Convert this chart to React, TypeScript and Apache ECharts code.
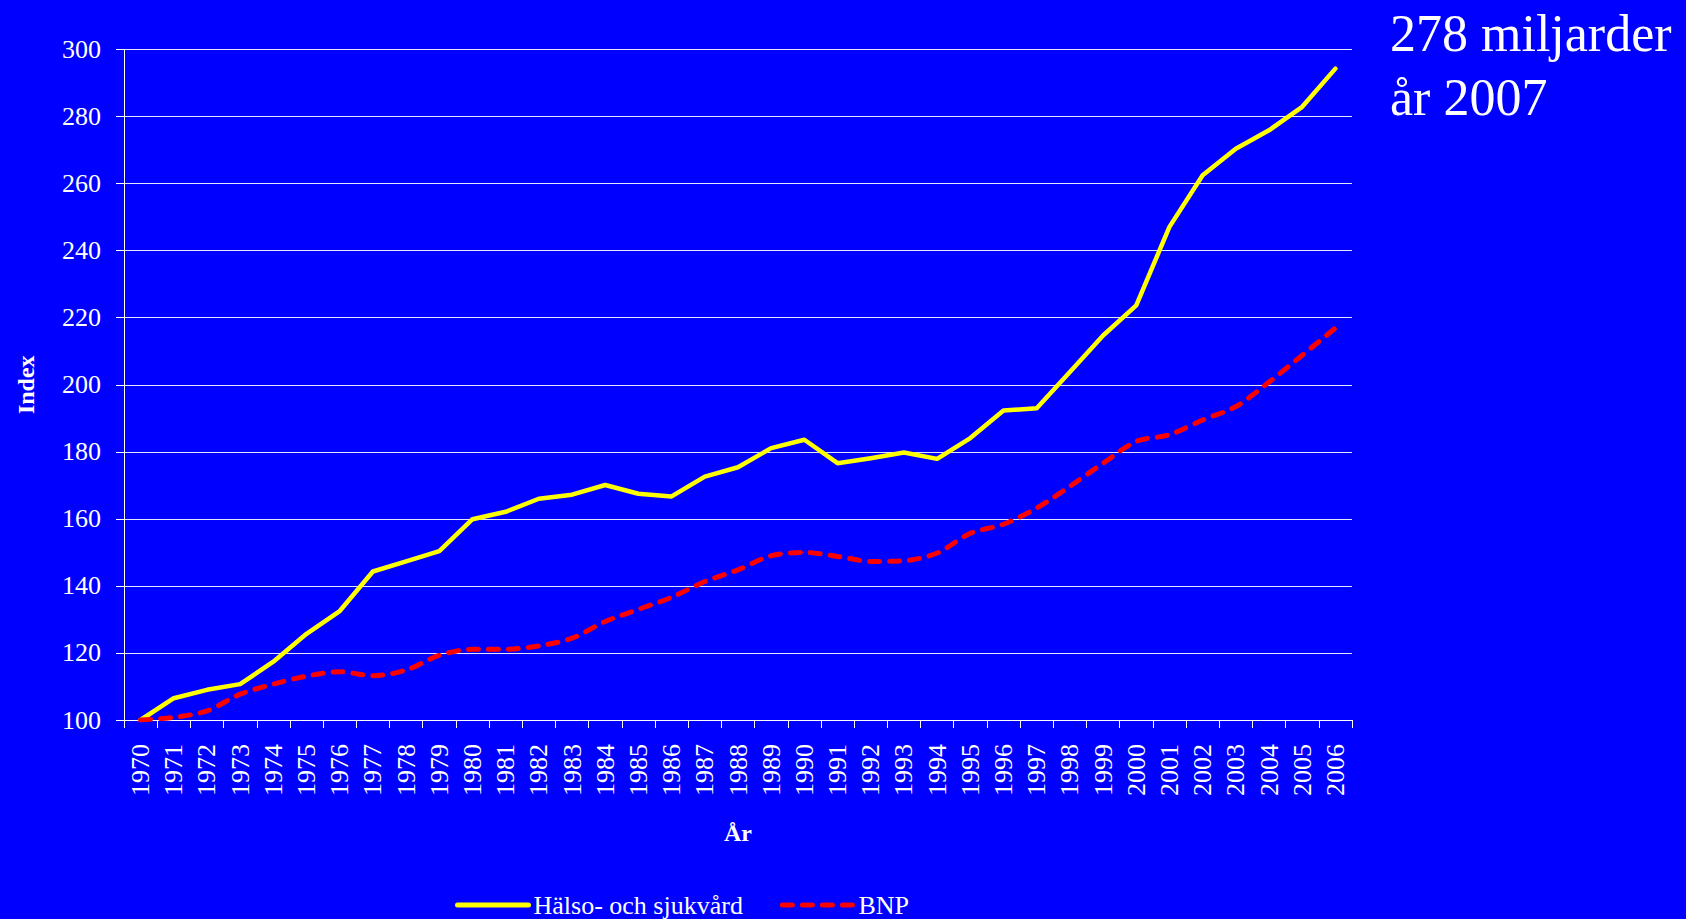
import React, { useEffect, useRef } from "react";
import * as echarts from "echarts";

const years = [
  "1970", "1971", "1972", "1973", "1974", "1975", "1976", "1977", "1978", "1979",
  "1980", "1981", "1982", "1983", "1984", "1985", "1986", "1987", "1988", "1989",
  "1990", "1991", "1992", "1993", "1994", "1995", "1996", "1997", "1998", "1999",
  "2000", "2001", "2002", "2003", "2004", "2005", "2006",
];

const halsoOchSjukvard = [
  100, 106.5, 109, 110.7, 117.4, 125.7, 132.5, 144.3, 147.3, 150.4,
  159.9, 162.1, 166, 167.2, 170.1, 167.5, 166.7, 172.6, 175.4, 181.1,
  183.6, 176.6, 178.1, 179.8, 177.9, 184.1, 192.3, 193, 203.8, 214.7,
  223.7, 247.1, 262.5, 270.4, 275.9, 282.9, 294.3,
];

const bnp = [
  100, 100.8, 102.7, 107.7, 110.7, 113.1, 114.4, 113.2, 114.9, 119.3,
  121.1, 121.1, 122.1, 124.4, 129.4, 133, 136.6, 141.3, 144.8, 149,
  150, 148.8, 147.3, 147.5, 149.8, 155.7, 158.4, 163.2, 169.7, 176.6,
  183.1, 185.1, 189.5, 193.5, 200.8, 208.8, 216.9,
];

const seriesNames = ["Hälso- och sjukvård", "BNP"];
const annotationLines = ["278 miljarder", "år 2007"];

const FONT = "'Liberation Serif', 'Times New Roman', serif";

const YELLOW = "#ffff00";
const RED = "#ff0000";
const RED_DASH = [10, 10];

export default function App() {
  const ref = useRef<HTMLDivElement>(null);

  useEffect(() => {
    if (!ref.current) return;
    const chart = echarts.init(ref.current, null, { renderer: "svg" });
    chart.setOption({
      animation: false,
      backgroundColor: "#0000ff",
      textStyle: { fontFamily: FONT, color: "#ffffff" },
      grid: { left: 124, right: 334, top: 49.5, bottom: 199, containLabel: false },
      legend: {
        data: [
          {
            name: seriesNames[0],
            itemStyle: { opacity: 0 },
            lineStyle: { color: YELLOW, width: 5, cap: "round" },
          },
          {
            name: seriesNames[1],
            itemStyle: { opacity: 0 },
            lineStyle: { color: RED, width: 5, type: RED_DASH, cap: "round" },
          },
        ],
        left: 450,
        top: 887,
        itemWidth: 71,
        itemHeight: 10,
        itemGap: 37,
        textStyle: { color: "#ffffff", fontSize: 26, fontFamily: FONT },
      },
      xAxis: {
        type: "category",
        data: years,
        boundaryGap: true,
        name: "År",
        nameLocation: "middle",
        nameGap: 101,
        nameTextStyle: { color: "#ffffff", fontSize: 24, fontWeight: "bold", fontFamily: FONT },
        axisLine: { show: true, lineStyle: { color: "#ffffff", width: 1 } },
        axisTick: { show: true, alignWithLabel: false, length: 8, lineStyle: { color: "#ffffff" } },
        axisLabel: {
          rotate: 90,
          interval: 0,
          margin: 24,
          color: "#ffffff",
          fontSize: 26,
          fontFamily: FONT,
        },
        splitLine: { show: false },
      },
      yAxis: {
        type: "value",
        min: 100,
        max: 300,
        interval: 20,
        name: "Index",
        nameLocation: "middle",
        nameGap: 86,
        nameRotate: 90,
        nameTextStyle: { color: "#ffffff", fontSize: 24, fontWeight: "bold", fontFamily: FONT },
        axisLine: { show: true, lineStyle: { color: "#ffffff", width: 1 } },
        axisTick: { show: true, length: 8, lineStyle: { color: "#ffffff" } },
        axisLabel: { margin: 23, color: "#ffffff", fontSize: 26, fontFamily: FONT },
        splitLine: { show: true, lineStyle: { color: "#e6e6ff", width: 1 } },
      },
      series: [
        {
          name: seriesNames[0],
          type: "line",
          data: halsoOchSjukvard,
          symbol: "none",
          smooth: false,
          lineStyle: { color: YELLOW, width: 4.5, cap: "round", join: "round" },
          itemStyle: { color: YELLOW },
        },
        {
          name: seriesNames[1],
          type: "line",
          data: bnp,
          symbol: "none",
          smooth: 0.3,
          lineStyle: { color: RED, width: 5, type: RED_DASH, cap: "round" },
          itemStyle: { color: RED },
        },
      ],
      graphic: [
        {
          type: "text",
          left: 1390,
          top: 7,
          style: {
            text: annotationLines[0],
            fill: "#ffffff",
            font: `52px ${FONT}`,
          },
        },
        {
          type: "text",
          left: 1390,
          top: 71,
          style: {
            text: annotationLines[1],
            fill: "#ffffff",
            font: `52px ${FONT}`,
          },
        },
      ],
    });
    return () => chart.dispose();
  }, []);

  return (
    <div
      ref={ref}
      style={{ position: "absolute", left: 0, top: 0, width: 1686, height: 919, background: "#0000ff" }}
    />
  );
}
